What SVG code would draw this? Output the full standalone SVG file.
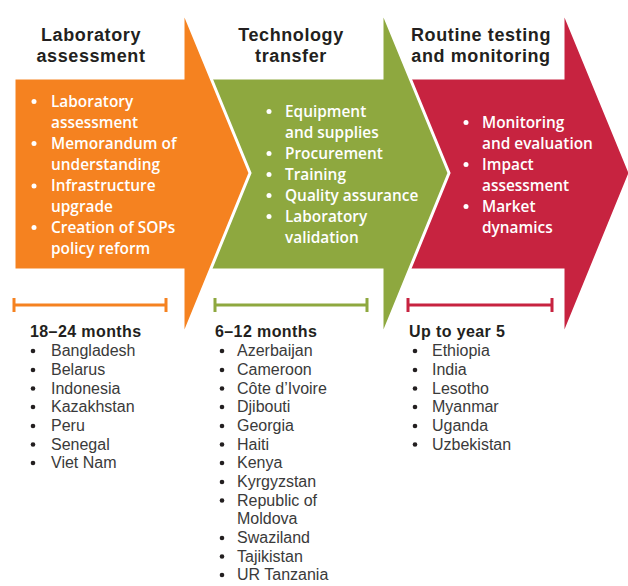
<svg xmlns="http://www.w3.org/2000/svg" width="628" height="586" viewBox="0 0 628 586">
<style>
.arrow{stroke:#fff;stroke-width:3;stroke-linejoin:miter}
.head{font-family:"Liberation Sans",Arial,sans-serif;font-weight:700;font-size:18px;letter-spacing:0.6px;fill:#231f20;text-anchor:middle}
.item{font-family:"Open Sans","Liberation Sans",sans-serif;font-weight:600;font-size:15.4px;fill:#fff}
.wb{fill:#fff}
.dur{font-family:"Liberation Sans",Arial,sans-serif;font-weight:700;font-size:16px;letter-spacing:0.4px;fill:#231f20}
.ctry{font-family:"Liberation Sans",Arial,sans-serif;font-weight:400;font-size:16px;fill:#3a3a3a}
.db{fill:#231f20}
.bar{stroke-width:3;fill:none}
</style>
<g id="routine">
<polygon class="arrow" fill="#c72340" points="400,78 563,78 563,10 630,173 563,337 563,270 400,270"/>
<text class="head" x="481" y="41">Routine testing</text>
<text class="head" x="481" y="62">and monitoring</text>
<g class="wb"><circle cx="466" cy="122.5" r="2.5"/><circle cx="466" cy="164.5" r="2.5"/><circle cx="466" cy="206.5" r="2.5"/></g>
<text class="item" x="482" y="128">Monitoring</text>
<text class="item" x="482" y="149">and evaluation</text>
<text class="item" x="482" y="170">Impact</text>
<text class="item" x="482" y="191">assessment</text>
<text class="item" x="482" y="212">Market</text>
<text class="item" x="482" y="233">dynamics</text>
</g>
<g id="technology">
<polygon class="arrow" fill="#8ea83f" points="200,78 382,78 382,10 449,173 382,337 382,270 200,270"/>
<text class="head" x="291" y="41">Technology</text>
<text class="head" x="291" y="62">transfer</text>
<g class="wb"><circle cx="269" cy="111.5" r="2.5"/><circle cx="269" cy="153.5" r="2.5"/><circle cx="269" cy="174.5" r="2.5"/><circle cx="269" cy="195.5" r="2.5"/><circle cx="269" cy="216.5" r="2.5"/></g>
<text class="item" x="285" y="117">Equipment</text>
<text class="item" x="285" y="138">and supplies</text>
<text class="item" x="285" y="159">Procurement</text>
<text class="item" x="285" y="180">Training</text>
<text class="item" x="285" y="201">Quality assurance</text>
<text class="item" x="285" y="222">Laboratory</text>
<text class="item" x="285" y="243">validation</text>
</g>
<g id="laboratory">
<polygon class="arrow" fill="#f58220" points="14,78 183,78 183,10 250,173 183,337 183,270 14,270"/>
<text class="head" x="91" y="41">Laboratory</text>
<text class="head" x="91" y="62">assessment</text>
<g class="wb"><circle cx="34" cy="101.5" r="2.5"/><circle cx="34" cy="143.5" r="2.5"/><circle cx="34" cy="186" r="2.5"/><circle cx="34" cy="227.5" r="2.5"/></g>
<text class="item" x="51" y="107">Laboratory</text>
<text class="item" x="51" y="128">assessment</text>
<text class="item" x="51" y="149">Memorandum of</text>
<text class="item" x="51" y="170">understanding</text>
<text class="item" x="51" y="191">Infrastructure</text>
<text class="item" x="51" y="212">upgrade</text>
<text class="item" x="51" y="233">Creation of SOPs</text>
<text class="item" x="51" y="254">policy reform</text>
</g>
<g id="timeline-lab">
<path class="bar" stroke="#f58220" d="M14,305H166M14,298V312M166,298V312"/>
<text class="dur" x="30" y="337">18–24 months</text>
<g class="db"><circle cx="33" cy="351" r="2.3"/><circle cx="33" cy="370" r="2.3"/><circle cx="33" cy="388.5" r="2.3"/><circle cx="33" cy="407" r="2.3"/><circle cx="33" cy="426" r="2.3"/><circle cx="33" cy="444.5" r="2.3"/><circle cx="33" cy="463" r="2.3"/></g>
<text class="ctry" x="51" y="356">Bangladesh</text>
<text class="ctry" x="51" y="375">Belarus</text>
<text class="ctry" x="51" y="393.5">Indonesia</text>
<text class="ctry" x="51" y="412">Kazakhstan</text>
<text class="ctry" x="51" y="431">Peru</text>
<text class="ctry" x="51" y="449.5">Senegal</text>
<text class="ctry" x="51" y="468">Viet Nam</text>
</g>
<g id="timeline-tech">
<path class="bar" stroke="#8ea83f" d="M215,305H367M215,298V312M367,298V312"/>
<text class="dur" x="215" y="337">6–12 months</text>
<g class="db"><circle cx="222" cy="351" r="2.3"/><circle cx="222" cy="370" r="2.3"/><circle cx="222" cy="388.5" r="2.3"/><circle cx="222" cy="407" r="2.3"/><circle cx="222" cy="426" r="2.3"/><circle cx="222" cy="444.5" r="2.3"/><circle cx="222" cy="463" r="2.3"/><circle cx="222" cy="482" r="2.3"/><circle cx="222" cy="500.5" r="2.3"/><circle cx="222" cy="538" r="2.3"/><circle cx="222" cy="556.5" r="2.3"/><circle cx="222" cy="575" r="2.3"/></g>
<text class="ctry" x="237" y="356">Azerbaijan</text>
<text class="ctry" x="237" y="375">Cameroon</text>
<text class="ctry" x="237" y="393.5">Côte d’Ivoire</text>
<text class="ctry" x="237" y="412">Djibouti</text>
<text class="ctry" x="237" y="431">Georgia</text>
<text class="ctry" x="237" y="449.5">Haiti</text>
<text class="ctry" x="237" y="468">Kenya</text>
<text class="ctry" x="237" y="487">Kyrgyzstan</text>
<text class="ctry" x="237" y="505.5">Republic of</text>
<text class="ctry" x="237" y="524">Moldova</text>
<text class="ctry" x="237" y="543">Swaziland</text>
<text class="ctry" x="237" y="561.5">Tajikistan</text>
<text class="ctry" x="237" y="580">UR Tanzania</text>
</g>
<g id="timeline-routine">
<path class="bar" stroke="#c72340" d="M408,305H552M408,298V312M552,298V312"/>
<text class="dur" x="409" y="337">Up to year 5</text>
<g class="db"><circle cx="415" cy="351" r="2.3"/><circle cx="415" cy="370" r="2.3"/><circle cx="415" cy="388.5" r="2.3"/><circle cx="415" cy="407" r="2.3"/><circle cx="415" cy="426" r="2.3"/><circle cx="415" cy="444.5" r="2.3"/></g>
<text class="ctry" x="432" y="356">Ethiopia</text>
<text class="ctry" x="432" y="375">India</text>
<text class="ctry" x="432" y="393.5">Lesotho</text>
<text class="ctry" x="432" y="412">Myanmar</text>
<text class="ctry" x="432" y="431">Uganda</text>
<text class="ctry" x="432" y="449.5">Uzbekistan</text>
</g>
</svg>
